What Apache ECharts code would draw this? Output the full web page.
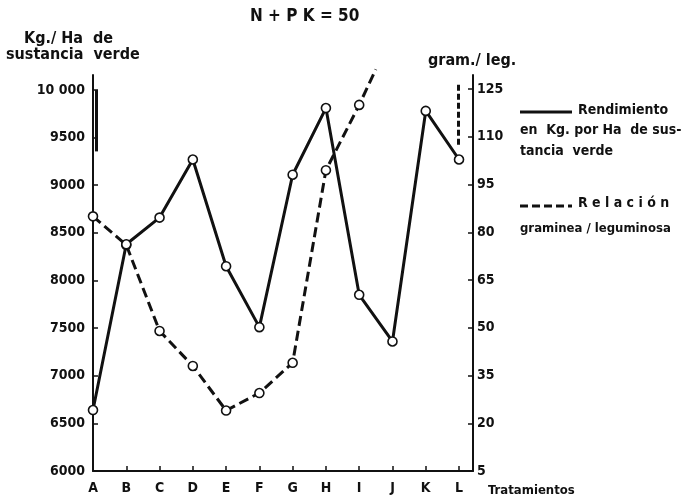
<!DOCTYPE html>
<html><head><meta charset="utf-8">
<script src="https://cdn.jsdelivr.net/npm/echarts@6/dist/echarts.min.js"></script>
<style>html,body{margin:0;padding:0;background:#fff}#c{width:687px;height:503px}</style>
</head><body><div id="c"></div>
<script>
var categories = ['A','B','C','D','E','F','G','H','I','J','K','L'];
var rendimiento = [6640, 8380, 8660, 9270, 8150, 7510, 9110, 9810, 7850, 7360, 9780, 9270];
var relacion = [85, 76, 49, 38, 24, 29.5, 39, 99.5, 120];
var relacionTail = [8.5, 131.2]; // dashed line runs off the top of the scale toward J
var leftTicks = [6000, 6500, 7000, 7500, 8000, 8500, 9000, 9500, 10000];
var rightTicks = [5, 20, 35, 50, 65, 80, 95, 110, 125];

var FONT = 'DejaVu Sans Condensed';
var chart = echarts.init(document.getElementById('c'));
var solidData = rendimiento.map(function(v,i){return [i,v];});
var dashedData = relacion.map(function(v,i){return [i,v];});
dashedData.push({value: relacionTail, symbol: 'none'});

var axisTxt = {color:'#111', fontFamily: FONT, fontWeight:'bold', fontSize:14};
chart.setOption({
  animation:false,
  grid:{left:93, right:214, top:75, bottom:32},
  xAxis:{type:'value', min:0, max:11.42,
    axisLine:{lineStyle:{color:'#111', width:2}},
    axisTick:{inside:true, length:5, lineStyle:{color:'#111', width:1.5}, customValues:[1,2,3,4,5,6,7,8,9,10,11]},
    axisLabel:Object.assign({margin:10, customValues:[0,1,2,3,4,5,6,7,8,9,10,11], formatter:function(v){return categories[Math.round(v)];}}, axisTxt),
    splitLine:{show:false}},
  yAxis:[
    {type:'value', min:6000, max:10157, position:'left',
      axisLine:{show:true, lineStyle:{color:'#111', width:2}},
      axisTick:{show:true, inside:true, length:5, lineStyle:{color:'#111', width:1.5}, customValues:leftTicks},
      axisLabel:Object.assign({margin:8, customValues:leftTicks, formatter:function(v){return v===10000?'10 000':String(v);}}, axisTxt),
      splitLine:{show:false}},
    {type:'value', min:5, max:129.4, position:'right',
      axisLine:{show:true, lineStyle:{color:'#111', width:2}},
      axisTick:{show:true, inside:true, length:5, lineStyle:{color:'#111', width:1.5}, customValues:rightTicks},
      axisLabel:Object.assign({margin:4, customValues:rightTicks}, axisTxt),
      splitLine:{show:false}}
  ],
  series:[
    {type:'line', yAxisIndex:0, data:solidData, symbol:'circle', symbolSize:9,
      itemStyle:{color:'#fff', borderColor:'#111', borderWidth:1.6},
      lineStyle:{color:'#111', width:3},
      markLine:{silent:true, symbol:'none', label:{show:false}, lineStyle:{color:'#111', width:3, type:'solid'},
        data:[[{coord:[0.11,10000]},{coord:[0.11,9355]}]]},
      z:3},
    {type:'line', yAxisIndex:1, data:dashedData, symbol:'circle', symbolSize:9, clip:false,
      itemStyle:{color:'#fff', borderColor:'#111', borderWidth:1.6},
      lineStyle:{color:'#111', width:3, type:[10,5]},
      markLine:{silent:true, symbol:'none', label:{show:false}, lineStyle:{color:'#111', width:3, type:[6,3]},
        data:[[{coord:[10.97,126.3]},{coord:[10.97,107.4]}]]},
      z:2}
  ],
  graphic:[
    {type:'text', left:250, top:8, style:{text:'N + P K = 50', fill:'#111', font:'bold 17px "'+FONT+'"'}},
    {type:'text', left:24, top:31, style:{text:'Kg./ Ha  de', fill:'#111', font:'bold 16px "'+FONT+'"'}},
    {type:'text', left:6, top:47, style:{text:'sustancia  verde', fill:'#111', font:'bold 16px "'+FONT+'"'}},
    {type:'text', left:428, top:53, style:{text:'gram./ leg.', fill:'#111', font:'bold 16px "'+FONT+'"'}},
    {type:'text', left:488, top:484, style:{text:'Tratamientos', fill:'#111', font:'bold 13px "'+FONT+'"'}},
    {type:'line', shape:{x1:520, y1:112, x2:572, y2:112}, style:{stroke:'#111', lineWidth:3}},
    {type:'text', left:578, top:103, style:{text:'Rendimiento', fill:'#111', font:'bold 14px "'+FONT+'"'}},
    {type:'text', left:520, top:123, style:{text:'en  Kg. por Ha  de sus-', fill:'#111', font:'bold 14px "'+FONT+'"'}},
    {type:'text', left:520, top:144, style:{text:'tancia  verde', fill:'#111', font:'bold 14px "'+FONT+'"'}},
    {type:'line', shape:{x1:520, y1:206, x2:572, y2:206}, style:{stroke:'#111', lineWidth:3, lineDash:[8,4]}},
    {type:'text', left:578, top:196, style:{text:'R e l a c i ó n', fill:'#111', font:'bold 14px "'+FONT+'"'}},
    {type:'text', left:520, top:222, style:{text:'graminea / leguminosa', fill:'#111', font:'bold 13px "'+FONT+'"'}}
  ]
});
</script></body></html>
